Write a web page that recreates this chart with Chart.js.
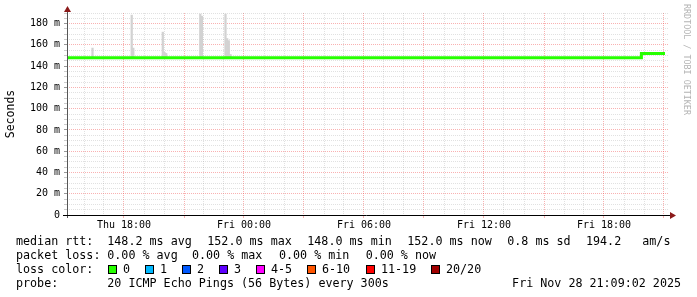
<!DOCTYPE html>
<html>
<head>
<meta charset="utf-8">
<script src="https://cdn.jsdelivr.net/npm/chart.js@4"></script>
<style>
  html, body { margin: 0; padding: 0; background: #fff; }
  #wrap { position: relative; width: 697px; height: 297px; overflow: hidden; }
  #c { position: absolute; left: 0; top: 0; }
  .t { position: absolute; font-family: "DejaVu Sans Mono", monospace; font-size: 11.7px; line-height: 14px; white-space: pre; color: #000; }
  .box { position: absolute; width: 7px; height: 7px; border: 1px solid #000; }
  #wm { position: absolute; left: 682px; top: 4px; font-family: "DejaVu Sans Mono", monospace; font-size: 8.4px; color: #b4b4b4; writing-mode: vertical-rl; white-space: pre; }
</style>
</head>
<body>
<div id="wrap">
  <canvas id="c" width="697" height="297"></canvas>
  <div id="wm">RRDTOOL / TOBI OETIKER</div>
  <div id="legend"></div>
</div>
<script>
// time axis: hours since Thu 00:00 (graph spans Thu 15:09 .. Fri 21:12)
const timeStart = 15.15
const timeEnd = 45.2
const hourTicks = [16,17,18,19,20,21,22,23,24,25,26,27,28,29,30,31,32,33,34,35,36,37,38,39,40,41,42,43,44,45]
const hourLabels = { 18: "Thu 18:00", 24: "Fri 00:00", 30: "Fri 06:00", 36: "Fri 12:00", 42: "Fri 18:00" }

// median rtt (ms), stepped
const rttTimes = [15.15, 43.87, 45.05]
const rttValues = [148.0, 152.0, 152.0]

// smoke: 5-minute steps where pings spread above the median
const smokeTimes = [16.425, 18.385, 18.465, 19.94, 20.025, 20.11, 21.815, 21.895, 23.075, 23.16, 23.24, 23.325]
const smokeLow   = [148, 148, 148, 148, 148, 148, 148, 148, 148, 148, 148, 148]
const smokeHigh  = [157, 188, 157, 172, 153, 152, 189, 187, 189, 166, 164, 151]

const lossLabels = ["0", "1", "2", "3", "4-5", "6-10", "11-19", "20/20"]
const lossColors = ["#26ff00", "#00b8ff", "#0059ff", "#5e00ff", "#ff00ff", "#ff5500", "#ff0000", "#a10000"]

const rttLegend = ["148.2 ms avg", "152.0 ms max", "148.0 ms min", "152.0 ms now", "0.8 ms sd", "194.2", "am/s"]
const lossLegend = ["0.00 % avg", "0.00 % max", "0.00 % min", "0.00 % now"]

const MAJOR = "rgba(240,70,70,0.42)"
const MINOR = "rgba(120,120,120,0.22)"
const mono = "'DejaVu Sans Mono', monospace"

// legend text below the graph
const legend = document.getElementById("legend")
function txt(s, x, y) {
  const d = document.createElement("div")
  d.className = "t"
  d.textContent = s
  d.style.left = x + "px"
  d.style.top = y + "px"
  legend.appendChild(d)
  return d
}
txt("median rtt:", 16, 234)
const rttX = [107.3, 207.3, 307.3, 407.3, 507.3, 586, 642.3]
rttLegend.forEach((s, i) => txt(s, rttX[i], 234))
txt("packet loss:", 16, 248)
const lossX = [107.3, 192, 279, 365.7]
lossLegend.forEach((s, i) => txt(s, lossX[i], 248))
txt("loss color:", 16, 262)
const boxX = [108, 145, 182, 219, 256, 307, 366, 431]
lossLabels.forEach((s, i) => {
  const b = document.createElement("div")
  b.className = "box"
  b.style.left = boxX[i] + "px"
  b.style.top = "265px"
  b.style.background = lossColors[i]
  legend.appendChild(b)
  txt(s, boxX[i] + 15, 262)
})
txt("probe:", 16, 276)
txt("20 ICMP Echo Pings (56 Bytes) every 300s", 107.3, 276)
const dateEl = txt("Fri Nov 28 21:09:02 2025", 0, 276)
dateEl.style.left = ""
dateEl.style.right = (697 - 681) + "px"

// axis lines with arrow heads, rrdtool style
const axisArrows = {
  id: "axisArrows",
  afterDraw(chart) {
    const { ctx, chartArea: a } = chart
    ctx.save()
    ctx.lineWidth = 1
    ctx.strokeStyle = "#555"
    ctx.beginPath()
    ctx.moveTo(a.left + 0.5, a.top - 2)
    ctx.lineTo(a.left + 0.5, a.bottom + 3)
    ctx.stroke()
    ctx.strokeStyle = "#000"
    ctx.beginPath()
    ctx.moveTo(a.left - 4, a.bottom + 0.5)
    ctx.lineTo(a.right + 2, a.bottom + 0.5)
    ctx.stroke()
    ctx.fillStyle = "#8b1a1a"
    ctx.beginPath()
    ctx.moveTo(a.left + 0.5, a.top - 7)
    ctx.lineTo(a.left - 3, a.top - 1)
    ctx.lineTo(a.left + 4, a.top - 1)
    ctx.closePath()
    ctx.fill()
    ctx.beginPath()
    ctx.moveTo(a.right + 8, a.bottom + 0.5)
    ctx.lineTo(a.right + 2, a.bottom - 3)
    ctx.lineTo(a.right + 2, a.bottom + 4)
    ctx.closePath()
    ctx.fill()
    ctx.restore()
  }
}

new Chart(document.getElementById("c"), {
  type: "bar",
  data: {
    datasets: [
      {
        type: "line",
        label: "median rtt",
        data: rttTimes.map((t, i) => ({ x: t, y: rttValues[i] })),
        borderColor: "#26ff00",
        borderWidth: 3,
        borderCapStyle: "butt",
        stepped: true,
        pointRadius: 0,
        order: 0
      },
      {
        type: "bar",
        label: "smoke",
        data: smokeTimes.map((t, i) => ({ x: t, y: [smokeLow[i], smokeHigh[i]] })),
        backgroundColor: "#d2d2d2",
        borderWidth: 0,
        grouped: false,
        categoryPercentage: 1,
        barPercentage: 1,
        order: 1
      }
    ]
  },
  options: {
    responsive: false,
    animation: false,
    layout: { padding: { left: 0, top: 13, right: 29, bottom: 62 } },
    plugins: { legend: { display: false }, tooltip: { enabled: false } },
    scales: {
      x: {
        type: "linear",
        offset: false,
        min: timeStart,
        max: timeEnd,
        afterBuildTicks: s => { s.ticks = hourTicks.map(v => ({ value: v })) },
        afterFit: s => { s.height = 20 },
        border: { display: false, dash: [1, 1] },
        grid: {
          offset: false,
          borderDash: [1, 1],
          color: c => (c.tick && c.tick.value % 3 === 0) ? MAJOR : MINOR,
          tickLength: 3,
          tickColor: c => (c.tick && c.tick.value % 3 === 0) ? MAJOR : "rgba(0,0,0,0)"
        },
        ticks: {
          autoSkip: false,
          maxRotation: 0,
          padding: 1,
          color: "#000",
          font: { family: mono, size: 10 },
          callback: v => hourLabels[v] || ""
        }
      },
      y: {
        min: 0,
        max: 190,
        afterFit: s => { s.width = 67 },
        border: { display: false, dash: [1, 1] },
        grid: {
          borderDash: [1, 1],
          color: c => (c.tick && c.tick.value % 20 === 0) ? MAJOR : MINOR,
          tickLength: 3,
          tickColor: c => (c.tick && c.tick.value % 20 === 0) ? "#999" : "#ccc"
        },
        ticks: {
          stepSize: 5,
          autoSkip: false,
          padding: 4,
          color: "#000",
          font: { family: mono, size: 10 },
          callback: v => v % 20 === 0 ? (v === 0 ? "0" : v + " m") : ""
        },
        title: {
          display: true,
          text: "Seconds",
          color: "#000",
          font: { family: mono, size: 11.5 },
          padding: { top: 4, bottom: 0 }
        }
      }
    }
  },
  plugins: [axisArrows]
})
</script>
</body>
</html>
